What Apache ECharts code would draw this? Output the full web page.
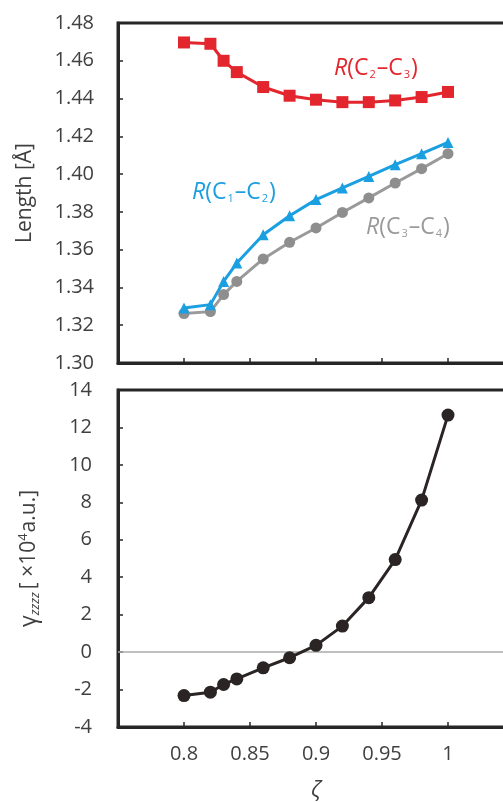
<!DOCTYPE html>
<html><head><meta charset="utf-8">
<script src="https://cdn.jsdelivr.net/npm/echarts@6/dist/echarts.min.js"></script>
<style>html,body{margin:0;padding:0;background:#fff}#c{width:503px;height:802px}</style>
</head><body><div id="c"></div>
<script>
const zeta = [0.80, 0.82, 0.83, 0.84, 0.86, 0.88, 0.90, 0.92, 0.94, 0.96, 0.98, 1.00];
const rC2C3 = [1.4697, 1.4690, 1.4600, 1.4540, 1.4461, 1.4415, 1.4394, 1.4381, 1.4381, 1.4390, 1.4408, 1.4435];
const rC1C2 = [1.3291, 1.3309, 1.3432, 1.3529, 1.3679, 1.3780, 1.3865, 1.3927, 1.3988, 1.4050, 1.4108, 1.4168];
const rC3C4 = [1.3262, 1.3272, 1.3362, 1.3432, 1.3551, 1.3639, 1.3715, 1.3797, 1.3874, 1.3953, 1.4029, 1.4108];
const gamma = [-2.32, -2.14, -1.73, -1.43, -0.84, -0.30, 0.36, 1.39, 2.91, 4.94, 8.12, 12.66];
const lenTicks = {min: 1.30, max: 1.48, step: 0.02};
const gamTicks = {min: -4, max: 14, step: 2};
const zTicks = {min: 0.75, max: 1.05, step: 0.05};

const FONT = 'Open Sans';
const LBL = '#404040';
const FRAME = '#262626';
const RED = '#e3262d', BLUE = '#1a9fe0', GRAY = '#9a9a9a', BLACK = '#2a2424';
const FS = 20;

const pair = (xs, ys) => xs.map((x, i) => [x, ys[i]]);

function rLabel(color, a, b) {
  return {
    type: 'text',
    style: {
      text: '{i|R}{n|(C}{s|' + a + '}{n|–C}{s|' + b + '}{n|)}',
      rich: {
        i: {fontFamily: FONT, fontSize: 23, fontStyle: 'italic', fill: color, color: color},
        n: {fontFamily: FONT, fontSize: 23, fill: color, color: color},
        s: {fontFamily: FONT, fontSize: 11, fill: color, color: color, verticalAlign: 'bottom', padding: [12, 1, 0, 1]}
      }
    }
  };
}

const chart = echarts.init(document.getElementById('c'));
const axisCommon = {
  axisLine: {show: true, onZero: false, lineStyle: {color: FRAME, width: 3}},
  axisTick: {show: true, inside: true, length: 5, lineStyle: {color: FRAME, width: 1.5}},
  splitLine: {show: false}
};
chart.setOption({
  animation: false,
  backgroundColor: '#fff',
  textStyle: {fontFamily: FONT},
  grid: [
    {left: 118, top: 23, width: 396, height: 340, show: true, borderColor: FRAME, borderWidth: 3, outerBoundsMode: 'none', containLabel: false},
    {left: 118, top: 390, width: 396, height: 337, show: true, borderColor: FRAME, borderWidth: 3, outerBoundsMode: 'none', containLabel: false}
  ],
  xAxis: [
    Object.assign({type: 'value', gridIndex: 0, min: zTicks.min, max: zTicks.max, interval: zTicks.step,
      axisLabel: {show: false}}, axisCommon),
    Object.assign({type: 'value', gridIndex: 1, min: zTicks.min, max: zTicks.max, interval: zTicks.step,
      name: 'ζ', nameLocation: 'middle', nameGap: 53,
      nameTextStyle: {fontFamily: FONT, fontSize: 22, fontStyle: 'italic', color: LBL},
      axisLabel: {show: true, margin: 17, fontFamily: FONT, fontSize: FS, color: LBL,
        formatter: v => (Math.abs(v - 0.75) < 1e-6 || Math.abs(v - 1.05) < 1e-6) ? '' : String(+v.toFixed(2))}}, axisCommon)
  ],
  yAxis: [
    Object.assign({type: 'value', gridIndex: 0, min: lenTicks.min, max: lenTicks.max, interval: lenTicks.step,
      name: 'Length [Å]', nameLocation: 'middle', nameGap: 82,
      nameTextStyle: {fontFamily: FONT, fontSize: 21, color: LBL},
      axisLabel: {margin: 24, fontFamily: FONT, fontSize: FS, color: LBL, formatter: v => v.toFixed(2)}}, axisCommon),
    Object.assign({type: 'value', gridIndex: 1, min: gamTicks.min, max: gamTicks.max, interval: gamTicks.step,
      name: '{g|γ}{s|zzzz}{n|[ ×10}{p|4}{n|a.u.]}', nameLocation: 'middle', nameGap: 76,
      nameTextStyle: {fontFamily: FONT, fontSize: 20, color: LBL,
        rich: {
          g: {fontFamily: FONT, fontSize: 23, color: LBL},
          s: {fontFamily: FONT, fontSize: 13, fontStyle: 'italic', color: LBL, verticalAlign: 'bottom', padding: [12, 3, 0, 0]},
          n: {fontFamily: FONT, fontSize: 21, color: LBL},
          p: {fontFamily: FONT, fontSize: 13, color: LBL, verticalAlign: 'top', padding: [0, 1, 10, 0]}
        }},
      axisLabel: {margin: 26, fontFamily: FONT, fontSize: FS, color: LBL}}, axisCommon)
  ],
  series: [
    {type: 'line', xAxisIndex: 0, yAxisIndex: 0, data: pair(zeta, rC3C4), symbol: 'circle', symbolSize: 11,
      lineStyle: {color: GRAY, width: 3}, itemStyle: {color: '#8e8e8e'}},
    {type: 'line', xAxisIndex: 0, yAxisIndex: 0, data: pair(zeta, rC1C2), symbol: 'triangle', symbolSize: 11,
      lineStyle: {color: BLUE, width: 3}, itemStyle: {color: BLUE}},
    {type: 'line', xAxisIndex: 0, yAxisIndex: 0, data: pair(zeta, rC2C3), symbol: 'rect', symbolSize: 12,
      lineStyle: {color: RED, width: 3}, itemStyle: {color: RED}},
    {type: 'line', xAxisIndex: 1, yAxisIndex: 1, data: pair(zeta, gamma), symbol: 'circle', symbolSize: 13,
      lineStyle: {color: BLACK, width: 3}, itemStyle: {color: BLACK}, z: 5,
      markLine: {silent: true, symbol: 'none', label: {show: false}, z: 1,
        lineStyle: {color: '#aaaaaa', width: 1.5, type: 'solid'}, data: [{yAxis: 0}]}}
  ],
  graphic: [
    Object.assign(rLabel(RED, '2', '3'), {left: 334, top: 57}),
    Object.assign(rLabel(BLUE, '1', '2'), {left: 192, top: 181}),
    Object.assign(rLabel(GRAY, '3', '4'), {left: 366, top: 216})
  ]
});
</script></body></html>
